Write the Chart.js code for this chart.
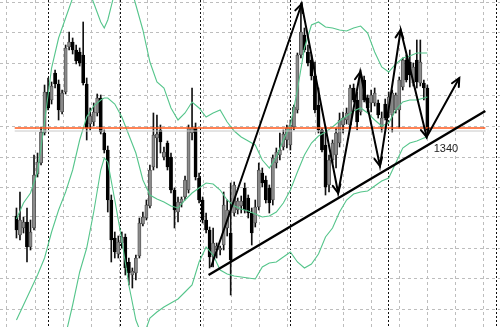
<!DOCTYPE html>
<html>
<head>
<meta charset="utf-8">
<script src="https://cdn.jsdelivr.net/npm/chart.js@4.4.0/dist/chart.umd.min.js"></script>
<style>
  html, body { margin: 0; padding: 0; background: #fff; overflow: hidden; }
  #wrap { width: 500px; height: 327px; position: relative; }
</style>
</head>
<body>
<div id="wrap"><canvas id="priceChart"></canvas></div>
<script>
// Candles, one per bar (index = position on the time axis)
const candleOpen = [1261,1242,1249,1255,1230,1249,1303,1314,1344,1385,
  1377,1404,1393,1365,1385,1430,1435,1427,1425,1422,
  1393,1353,1355,1364,1379,1344,1327,1277,1239,1223,
  1234,1240,1215,1202,1204,1221,1253,1259,1271,1310,
  1339,1347,1320,1334,1320,1287,1265,1274,1280,1287,
  1344,1349,1299,1277,1257,1247,1222,1227,1227,1232,
  1249,1244,1264,1267,1271,1289,1279,1264,1254,1270,
  1304,1297,1289,1277,1314,1322,1330,1337,1332,1350,
  1367,1422,1442,1425,1417,1401,1372,1347,1332,1292,
  1317,1322,1334,1352,1357,1352,1389,1377,1365,1397,
  1379,1374,1374,1374,1350,1373,1364,1362,1367,1367,
  1390,1417,1415,1394,1417,1394,1394,1389];
const candleHigh = [1269,1285,1260,1269,1257,1322,1324,1350,1392,1399,
  1395,1407,1397,1387,1432,1445,1439,1432,1429,1455,
  1399,1369,1374,1383,1382,1347,1331,1282,1245,1241,
  1245,1243,1219,1209,1222,1259,1265,1277,1312,1364,
  1362,1352,1330,1336,1324,1289,1280,1280,1301,1352,
  1389,1354,1304,1280,1264,1250,1249,1234,1231,1285,
  1277,1294,1295,1279,1281,1294,1282,1269,1277,1314,
  1309,1301,1292,1322,1329,1344,1347,1352,1357,1372,
  1424,1474,1449,1432,1422,1415,1389,1349,1344,1322,
  1337,1349,1364,1365,1369,1392,1393,1385,1407,1401,
  1382,1387,1389,1377,1365,1378,1385,1387,1384,1400,
  1419,1422,1427,1414,1437,1437,1397,1392];
const candleLow = [1239,1237,1244,1215,1227,1247,1300,1312,1342,1367,
  1373,1389,1357,1363,1383,1427,1423,1413,1411,1392,
  1337,1347,1351,1361,1343,1324,1265,1215,1219,1219,
  1229,1202,1192,1189,1197,1219,1251,1257,1269,1307,
  1309,1324,1317,1307,1284,1249,1255,1270,1277,1284,
  1337,1297,1274,1254,1244,1209,1210,1219,1222,1227,
  1241,1182,1261,1263,1264,1264,1259,1232,1250,1267,
  1290,1274,1264,1272,1309,1317,1327,1329,1327,1347,
  1364,1419,1425,1411,1397,1364,1344,1325,1282,1285,
  1314,1309,1330,1344,1353,1349,1375,1347,1362,1375,
  1365,1365,1371,1359,1345,1357,1360,1345,1364,1349,
  1387,1395,1390,1391,1389,1391,1377,1344];
const candleClose = [1247,1257,1255,1230,1245,1302,1315,1345,1385,1369,
  1391,1393,1367,1384,1429,1435,1427,1416,1414,1394,
  1349,1361,1365,1379,1345,1327,1277,1237,1225,1235,
  1240,1209,1204,1206,1219,1254,1260,1272,1307,1342,
  1343,1335,1325,1310,1287,1267,1275,1278,1297,1349,
  1349,1300,1277,1257,1247,1220,1234,1231,1229,1272,
  1267,1217,1292,1276,1276,1267,1264,1244,1270,1307,
  1294,1277,1274,1319,1325,1327,1343,1349,1352,1370,
  1422,1445,1427,1414,1401,1367,1347,1327,1290,1317,
  1334,1344,1357,1359,1364,1389,1377,1355,1403,1377,
  1369,1382,1384,1362,1359,1359,1380,1384,1382,1397,
  1417,1397,1402,1410,1395,1415,1389,1346];

// Bollinger bands, read at these bar positions
const bandIndex = [0,2,4,6,8,10,12,14,16,18,20,22,24,25,26,28,30,32,34,36,38,40,42,44,46,48,50,
  52,54,56,58,60,62,64,66,68,70,72,74,76,78,80,82,84,86,88,90,92,94,96,98,100,102,104,106,108,110,112,114,116,117];
const bandUpper = [1258,1274,1284,1305,1355,1409,1439,1459,1479,1502,1492,1474,1455,1449,
  1457,1485,1502,1497,1472,1447,1415,1395,1389,1369,1357,1364,1375,1369,1360,1364,1367,1355,1346,1340,
  1336,1332,1317,1309,1320,1337,1352,1387,1429,1452,1455,1450,1449,1447,1446,1449,1451,1444,1425,1410,
  1405,1413,1419,1421,1424,1424,1424];
const bandMiddle = [1157,1172,1187,1202,1219,1245,1267,1285,1307,1337,1360,1371,1377,1379,
  1379,1373,1360,1342,1324,1297,1282,1278,1275,1271,1269,1277,1284,1289,1294,1293,1287,1277,1271,1268,
  1266,1263,1260,1261,1265,1274,1287,1305,1322,1334,1341,1345,1350,1356,1361,1366,1369,1364,1357,1351,
  1354,1367,1375,1377,1377,1379,1380];
const bandLower = [1057,1067,1077,1087,1097,1107,1122,1142,1172,1205,1229,1265,1307,1319,
  1315,1277,1237,1192,1157,1139,1159,1165,1170,1174,1178,1185,1192,1215,1230,1222,1207,1203,1201,1200,
  1199,1198,1210,1214,1215,1220,1225,1215,1209,1213,1223,1240,1249,1265,1277,1283,1285,1286,1291,1296,
  1299,1314,1329,1334,1336,1339,1340];

// Drawn objects
const zigzagIndex = [55.4, 81.2, 91.6, 97.9, 103.5, 109.4, 116.8, 126.1];
const zigzagPrice = [1210, 1473, 1284, 1405, 1311, 1447, 1340, 1399];
const trendIndex = [54.7, 133.5];
const trendPrice = [1202, 1366];
const orangeLevel = 1349;
const levelLabel = '1340';
const labelPoint = 6; // zigzag vertex the label sits under

// Grid
const gridPrices = [1475, 1444, 1413, 1382, 1351, 1320, 1290, 1260, 1229, 1199, 1168];
const gridIndex = [1.3, 9.3, 17.3, 25.2, 33.2, 41.2, 49.2, 57.1, 65.1, 73.1, 81.1, 89.0, 97.0, 105.0, 113.0, 120.9, 128.9];
const separatorIndex = [11, 35, 65, 95, 131];

const xMin = -0.5, xMax = 133.5;
const yMin = 1150, yMax = 1477;

const green = '#55c58b';
const lastClose = candleClose[candleClose.length - 1];

function pts(xs, ys) { return xs.map((x, k) => ({ x: x, y: ys[k] })); }
function isUp(i) { return candleClose[i] >= candleOpen[i]; }

const arrowheads = {
  id: 'arrowheads',
  afterDatasetsDraw(chart) {
    const ctx = chart.ctx;
    const x = chart.scales.x, y = chart.scales.y;
    ctx.save();
    ctx.strokeStyle = '#000';
    ctx.lineWidth = 2;
    ctx.lineCap = 'round';
    for (let k = 1; k < zigzagIndex.length; k++) {
      const x0 = x.getPixelForValue(zigzagIndex[k - 1]), y0 = y.getPixelForValue(zigzagPrice[k - 1]);
      const x1 = x.getPixelForValue(zigzagIndex[k]), y1 = y.getPixelForValue(zigzagPrice[k]);
      const a = Math.atan2(y1 - y0, x1 - x0);
      const len = 9, spread = 0.45;
      ctx.beginPath();
      ctx.moveTo(x1 - len * Math.cos(a - spread), y1 - len * Math.sin(a - spread));
      ctx.lineTo(x1, y1);
      ctx.lineTo(x1 - len * Math.cos(a + spread), y1 - len * Math.sin(a + spread));
      ctx.stroke();
    }
    // price label under the last low
    const lx = x.getPixelForValue(zigzagIndex[labelPoint]);
    const ly = y.getPixelForValue(zigzagPrice[labelPoint]);
    ctx.fillStyle = '#222';
    ctx.font = '11px "Liberation Sans", Arial, sans-serif';
    ctx.fillText(levelLabel, lx + 7, ly + 15);
    ctx.restore();
  }
};

const ctx = document.getElementById('priceChart').getContext('2d');
new Chart(ctx, {
  type: 'bar',
  data: {
    datasets: [
      {
        label: 'wicks',
        data: candleLow.map((l, i) => ({ x: i, y: [l, candleHigh[i]] })),
        backgroundColor: '#111',
        barThickness: 1,
        grouped: false,
        order: 5
      },
      {
        label: 'bodies',
        data: candleOpen.map((o, i) => ({ x: i, y: [o, candleClose[i]] })),
        backgroundColor: c => isUp(c.dataIndex) ? '#8a8a8a' : '#000',
        borderColor: c => isUp(c.dataIndex) ? '#4a4a4a' : '#000',
        borderWidth: 0.8,
        borderSkipped: false,
        barThickness: 3.2,
        grouped: false,
        order: 4
      },
      { type: 'line', label: 'upper', data: pts(bandIndex, bandUpper), borderColor: green, borderWidth: 1.1, pointRadius: 0, order: 3 },
      { type: 'line', label: 'middle', data: pts(bandIndex, bandMiddle), borderColor: green, borderWidth: 1.1, pointRadius: 0, order: 3 },
      { type: 'line', label: 'lower', data: pts(bandIndex, bandLower), borderColor: green, borderWidth: 1.1, pointRadius: 0, order: 3 },
      { type: 'line', label: 'bid', data: pts([xMin, xMax], [lastClose, lastClose]), borderColor: '#c8c8c8', borderWidth: 1, pointRadius: 0, order: 2 },
      { type: 'line', label: 'level', data: pts([xMin, xMax], [orangeLevel, orangeLevel]), borderColor: '#ff5a1e', borderWidth: 1.5, pointRadius: 0, order: 2 },
      { type: 'line', label: 'trend', data: pts(trendIndex, trendPrice), borderColor: '#000', borderWidth: 2.5, pointRadius: 0, order: 1 },
      { type: 'line', label: 'zigzag', data: pts(zigzagIndex, zigzagPrice), borderColor: '#000', borderWidth: 2, pointRadius: 0, order: 1 }
    ].map(d => Object.assign(d, { xAxisID: 'x', yAxisID: 'y' }))
  },
  options: {
    responsive: true,
    maintainAspectRatio: false,
    animation: false,
    layout: { padding: 0 },
    plugins: { legend: { display: false }, tooltip: { enabled: false } },
    scales: {
      x: {
        type: 'linear', min: xMin, max: xMax,
        ticks: { display: false },
        grid: { color: '#bdbdbd', drawTicks: false },
        border: { display: false, dash: [3, 3] },
        afterBuildTicks: s => { s.ticks = gridIndex.map(v => ({ value: v })); }
      },
      sep: {
        type: 'linear', axis: 'x', position: 'bottom', min: xMin, max: xMax,
        ticks: { display: false },
        grid: { color: '#111', drawTicks: false },
        border: { display: false, dash: [2, 2] },
        afterBuildTicks: s => { s.ticks = separatorIndex.map(v => ({ value: v })); }
      },
      y: {
        min: yMin, max: yMax,
        ticks: { display: false },
        grid: { color: '#bdbdbd', drawTicks: false },
        border: { display: false, dash: [3, 3] },
        afterBuildTicks: s => { s.ticks = gridPrices.map(v => ({ value: v })); }
      }
    }
  },
  plugins: [arrowheads]
});
</script>
</body>
</html>
